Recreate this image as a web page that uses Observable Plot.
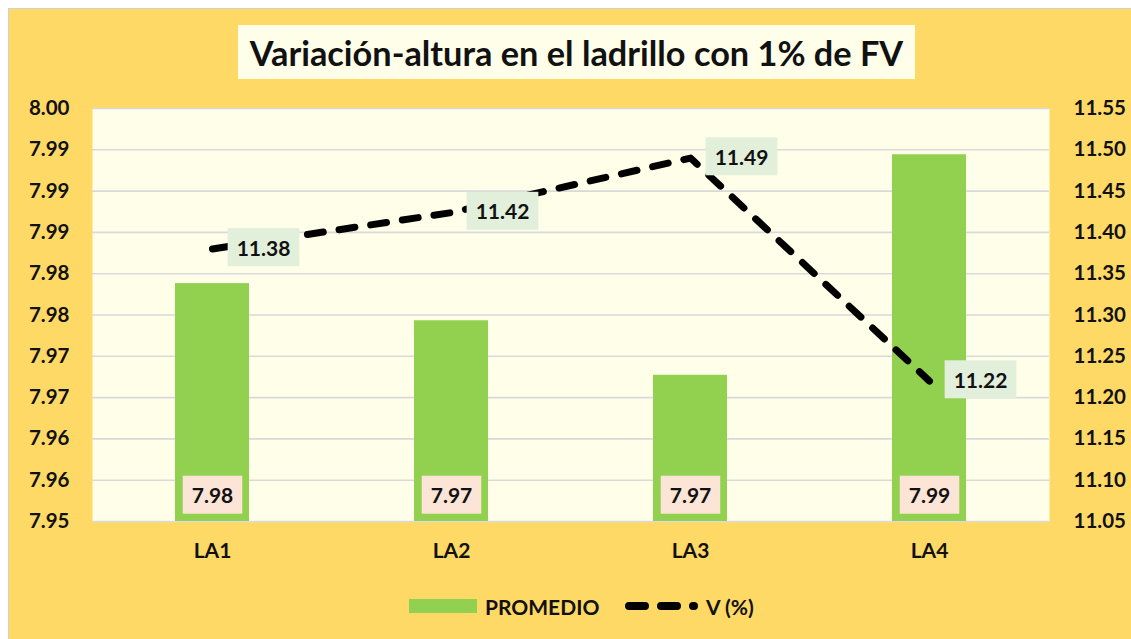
<!DOCTYPE html>
<html>
<head>
<meta charset="utf-8">
<script src="https://cdn.jsdelivr.net/npm/d3@7"></script>
<script src="https://cdn.jsdelivr.net/npm/@observablehq/plot@0.6"></script>
<style>
  html, body { margin: 0; padding: 0; background: #fff; }
  #wrap { position: relative; width: 1131px; height: 639px; overflow: hidden; background: #fff; font-family: Lato, "Open Sans", sans-serif; font-weight: bold; color: #111; }
  #frame { position: absolute; left: 8px; top: 8px; width: 1123px; height: 631px; background: #FFD966; border-left: 1px solid #d0d0d0; border-top: 1px solid #d0d0d0; box-sizing: border-box; }
  #chart { position: absolute; left: 0; top: 0; }
  #title { position: absolute; left: 238px; top: 25px; width: 677px; height: 54px; background: #FEFEE9; display: flex; align-items: center; justify-content: center; font-size: 34.3px; white-space: nowrap; }
  #legend { position: absolute; top: 592px; left: 0; width: 1131px; height: 28px; }
  .lg { position: absolute; top: 0; height: 28px; display: flex; align-items: center; font-size: 21px; white-space: nowrap; }
</style>
</head>
<body>
<div id="wrap">
  <div id="frame"></div>
  <div id="chart"></div>
  <div id="title">Variación-altura en el ladrillo con 1% de FV</div>
  <div id="legend">
    <div class="lg" style="left:409px"><span style="display:inline-block;width:68px;height:14px;background:#92D050;margin-right:8px"></span>PROMEDIO</div>
    <div class="lg" style="left:618px"><svg width="86" height="28" style="margin-right:2px"><line x1="11" y1="14" x2="76" y2="14" stroke="#000" stroke-width="8" stroke-linecap="round" stroke-dasharray="16,16"/></svg>V (%)</div>
  </div>
</div>
<script>
// ---- data ----
const categories = ["LA1", "LA2", "LA3", "LA4"];
const promedio = [7.9788, 7.9743, 7.9677, 7.9944];
const vPercent = [11.38, 11.424, 11.49, 11.22];
const leftTicks = [7.95, 7.955, 7.96, 7.965, 7.97, 7.975, 7.98, 7.985, 7.99, 7.995, 8.00];
const leftTickLabels = ["7.95", "7.96", "7.96", "7.97", "7.97", "7.98", "7.98", "7.99", "7.99", "7.99", "8.00"];
const rightTicks = [11.05, 11.10, 11.15, 11.20, 11.25, 11.30, 11.35, 11.40, 11.45, 11.50, 11.55];
const rightTickLabels = ["11.05", "11.10", "11.15", "11.20", "11.25", "11.30", "11.35", "11.40", "11.45", "11.50", "11.55"];
const barLabels = ["7.98", "7.97", "7.97", "7.99"];
const lineLabels = ["11.38", "11.42", "11.49", "11.22"];

const yMin = leftTicks[0], yMax = leftTicks[leftTicks.length - 1];
const rMin = rightTicks[0], rMax = rightTicks[rightTicks.length - 1];
const toLeft = v => yMin + (v - rMin) * (yMax - yMin) / (rMax - rMin);

const data = categories.map((c, i) => ({cat: c, prom: promedio[i], v: vPercent[i], bl: barLabels[i], ll: lineLabels[i]}));
const idx = (arr, d) => arr.findIndex(t => Math.abs(t - d) < 1e-9);

const chart = Plot.plot({
  width: 1131,
  height: 639,
  marginLeft: 92,
  marginRight: 82,
  marginTop: 108,
  marginBottom: 118,
  style: {background: "transparent", fontFamily: "Lato, 'Open Sans', sans-serif", fontSize: "20.5px", fontWeight: "bold", color: "#111"},
  x: {domain: categories, paddingInner: 0.69, paddingOuter: 0.345, label: null},
  y: {domain: [yMin, yMax], label: null},
  marks: [
    Plot.frame({fill: "#FEFEE9", stroke: null}),
    Plot.gridY(leftTicks, {stroke: "#D9D9D9", strokeOpacity: 1, strokeWidth: 1.6}),
    Plot.barY(data, {x: "cat", y1: () => yMin, y2: "prom", fill: "#92D050"}),
    Plot.line(data, {x: "cat", y: d => toLeft(d.v), stroke: "#000", strokeWidth: 7, strokeDasharray: "16,16", strokeLinecap: "round", strokeLinejoin: "round"}),
    Plot.text(data, {x: "cat", y: () => yMin, text: "bl", dy: -25, fontSize: 21, fill: "#111", ariaDescription: "barlabels"}),
    Plot.text(data, {x: "cat", y: d => toLeft(d.v), text: "ll", dx: 51, fontSize: 21, fill: "#111", ariaDescription: "linelabels"}),
    Plot.axisY({ticks: leftTicks, tickSize: 0, tickPadding: 23, label: null, tickFormat: d => leftTickLabels[idx(leftTicks, d)], fill: "#111"}),
    Plot.axisY({anchor: "right", ticks: leftTicks, tickSize: 0, tickPadding: 24, label: null, tickFormat: d => rightTickLabels[idx(leftTicks, d)], fill: "#111"}),
    Plot.axisX({tickSize: 0, tickPadding: 22, label: null, fontSize: 21, fill: "#111"})
  ]
});

document.getElementById("chart").appendChild(chart);

// background boxes behind data labels
function boxes(label, color, w, h) {
  const g = chart.querySelector(`g[aria-description="${label}"]`);
  if (!g) return;
  const texts = Array.from(g.querySelectorAll("text"));
  texts.forEach(t => {
    const b = t.getBBox();
    const tr = t.getAttribute("transform");
    const r = document.createElementNS("http://www.w3.org/2000/svg", "rect");
    const cx = b.x + b.width / 2, cy = b.y + b.height / 2;
    r.setAttribute("x", cx - (b.width + w) / 2);
    r.setAttribute("y", cy - h / 2);
    r.setAttribute("width", b.width + w);
    r.setAttribute("height", h);
    r.setAttribute("fill", color);
    if (tr) r.setAttribute("transform", tr);
    t.parentNode.insertBefore(r, t);
  });
}
boxes("barlabels", "#FCE4D6", 18, 38);
boxes("linelabels", "#E2EFDA", 18, 38);
</script>
</body>
</html>
